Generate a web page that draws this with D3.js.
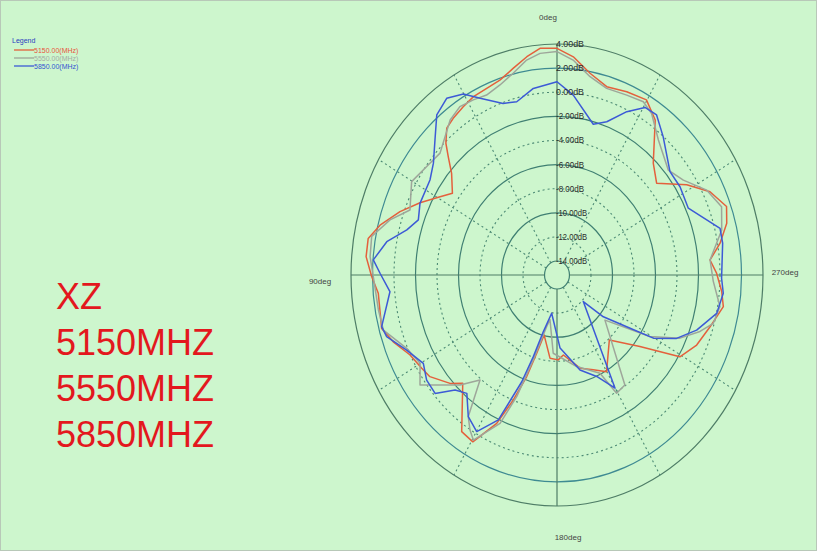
<!DOCTYPE html>
<html><head><meta charset="utf-8">
<script src="https://cdn.jsdelivr.net/npm/d3@7"></script>
<style>
html,body{margin:0;padding:0;background:#cdf6cd;}
svg{display:block;}
</style></head>
<body>
<svg id="c" width="817" height="551"></svg>
<script>
// ---- data ----
const seriesNames = ["5150.00(MHz)", "5550.00(MHz)", "5850.00(MHz)"];
const bigLabels = ["XZ", "5150MHZ", "5550MHZ", "5850MHZ"];
const dbTicks = [4, 2, 0, -2, -4, -6, -8, -10, -12, -14];
const angleLabels = ["0deg", "90deg", "180deg", "270deg"];
const spokeAngles = [30, 60, 120, 150, 210, 240, 300, 330];

const ang5150 = [0,4.8,8.8,13.3,18.2,22.9,27.7,32,36.6,40.1,43.4,45.9,49.3,55.1,59.2,64.8,70.2,75.9,80.2,85.1,90.4,95.2,105.2,110,115.9,121.6,125.5,132.1,135.7,145.7,150.5,155.5,158.6,161.5,163.8,166.4,174.6,180.9,185.1,195.5,203.2,209.9,222.1,232.4,239.3,245.9,253.2,260.4,264.9,270.5,275,279.8,285.2,289.8,295.9,301.8,309.4,316,324.6,330.2,336.9,343.5,349.6,355.2];
const db5150  = [3.64,3.71,3.16,2.47,1.85,1.64,1.55,1.30,1.03,0.76,-0.12,-1.08,-2.23,-3.30,-2.50,-1.08,0.36,1.81,2.66,2.66,2.08,1.53,1.74,1.05,0.03,-0.39,-0.64,-1.75,-2.61,0.57,0.74,-1.64,-4.03,-6.28,-8.40,-10.05,-8.23,-8.12,-8.50,-7.14,-6.60,-5.91,-7.90,-5.43,-1.87,-0.93,-0.29,0.53,0.22,-0.31,-0.87,0.22,1.20,1.60,0.66,-0.96,-3.17,-2.27,0.61,1.58,1.37,1.13,1.85,3.00];

const ang5550 = [0,4.9,9,13.7,18.6,23.7,28.2,32.9,37.7,47.1,52.7,60.2,68.5,73.6,79.5,85,90.4,99.9,105.8,113.5,119.9,125.6,130,135.3,140.6,144.9,147.8,150.4,156.7,159.6,162.6,167.4,170,176.9,193.6,206.1,209.5,214.7,230,239.4,245.4,250.6,254.6,260.2,268,275,283.7,290.3,296.8,303.8,310,319.9,326.7,330.8,336.5,343.4,349.4,355.2];
const db5550  = [3.37,3.29,2.89,2.06,1.47,1.14,1.32,1.47,1.09,-0.31,-0.10,0.42,-0.46,1.03,2.37,2.29,1.93,1.70,1.62,0.09,-0.47,0.51,-0.96,-2.33,-3.88,-0.81,0.03,0.59,-1.77,-4.40,-7.77,-10.78,-11.4,-8.66,-7.35,-6.08,-3.90,-4.07,-9.34,-5.13,-2.58,-1.06,-0.08,0.22,-0.62,-0.87,0.61,1.16,0.45,-1.02,-1.64,-0.52,0.87,1.30,1.11,0.99,1.57,2.73];

const ang5850 = [0,8.1,14.6,19.4,26,30.1,35,40.1,45.4,51.1,56.3,65,70.5,75,80.1,85.8,89.5,95.1,104.7,107.9,114,120.5,125.7,130.9,135.2,139.5,144.9,150.1,155.6,159.7,162,164.9,171.1,182.7,195.2,203.7,209.9,228,231.2,236.5,239.7,244.7,250.6,257.9,264.4,269,279.7,284.3,294.4,302.6,309.2,319.3,325.1,329.5,334.4,340,344.9,354.2];
const db5850  = [0.87,0.47,-0.31,-0.07,1.15,2.20,2.73,2.20,0.78,-0.39,-0.96,-1.10,-1.48,-0.70,0.91,1.97,1.30,0.44,1.70,1.49,0.15,-0.73,-0.23,-0.16,-1.71,-2.25,-0.81,-0.18,-1.96,-5.72,-8.04,-10.3,-11.95,-9.09,-7.00,-5.97,-4.33,-11.87,-9.63,-7.39,-4.78,-2.86,-1.39,0.03,0.38,0.15,0.47,0.49,-1.75,-1.58,-1.60,-0.02,1.03,0.97,-0.14,-1.63,-2.21,-0.16];

const seriesColors = ["#e4603c", "#9ea69a", "#3c5ad6"];
const legendTextColors = ["#e8543c", "#a4aca4", "#3452d2"];

// ---- layout ----
const svg = d3.select("#c");
const W = 817, H = 551;
const cx = 557, cy = 275, Rx = 206, Ry = 231;
const r = d3.scaleLinear().domain([-14, 4]).range([14 / Ry, 1]); // normalized radius
const pt = (deg, db) => {
  const t = deg * Math.PI / 180, n = r(db);
  return [cx - Rx * n * Math.sin(t), cy - Ry * n * Math.cos(t)];
};

svg.append("rect").attr("x", 0.5).attr("y", 0.5).attr("width", W - 1).attr("height", H - 1)
  .attr("fill", "#cdf6cd").attr("stroke", "#b8c8b8");

const g = svg.append("g");
// rings
const solid = new Set([4, 2, -2, -6, -10, -14]);
dbTicks.forEach(d => {
  const n = r(d);
  g.append("ellipse").attr("cx", cx).attr("cy", cy).attr("rx", Rx * n).attr("ry", Ry * n)
    .attr("fill", "none")
    .attr("stroke", d === 4 ? "#4e7d66" : (d === 2 ? "#3e8a92" : (solid.has(d) ? "#3f7f72" : "#4c8a74")))
    .attr("stroke-width", solid.has(d) ? 1.2 : 1.1)
    .attr("stroke-dasharray", solid.has(d) ? null : "2,3");
});
// spokes
spokeAngles.forEach(a => {
  const p0 = pt(a, -14), p1 = pt(a, 4);
  g.append("line").attr("x1", p0[0]).attr("y1", p0[1]).attr("x2", p1[0]).attr("y2", p1[1])
    .attr("stroke", "#4c8a74").attr("stroke-width", 1.1).attr("stroke-dasharray", "2,3");
});
// axes
[0, 90, 180, 270].forEach(a => {
  const p0 = pt(a, -14), p1 = pt(a, 4);
  g.append("line").attr("x1", p0[0]).attr("y1", p0[1]).attr("x2", p1[0]).attr("y2", p1[1])
    .attr("stroke", "#4e7d66").attr("stroke-width", 1.2);
});

// series
const line = d3.line().x(d => d[0]).y(d => d[1]).curve(d3.curveLinearClosed);
[[ang5150, db5150], [ang5550, db5550], [ang5850, db5850]].forEach(([a, v], i) => {
  const pts = a.map((ang, k) => pt(ang, v[k]));
  svg.append("path").attr("d", line(pts)).attr("fill", "none")
    .attr("stroke", seriesColors[i]).attr("stroke-width", 1.5).attr("stroke-linejoin", "round");
});

// dB labels
dbTicks.forEach(d => {
  const p = pt(0, d);
  svg.append("text").attr("x", p[0] - 1).attr("y", p[1] + 3)
    .attr("font-family", "Liberation Sans, Arial, sans-serif").attr("font-size", 8.5)
    .attr("fill", "#2a2a2a").attr("textLength", d <= -10 ? 31 : 28).attr("lengthAdjust", "spacingAndGlyphs")
    .text((d < 0 ? "-" : "") + Math.abs(d).toFixed(2) + "dB");
});

// angle labels
const angPos = [[548, 20, "middle"], [320, 284, "middle"], [568, 540, "middle"], [785, 275, "middle"]];
angleLabels.forEach((t, i) => {
  svg.append("text").attr("x", angPos[i][0]).attr("y", angPos[i][1]).attr("text-anchor", angPos[i][2])
    .attr("font-family", "Liberation Sans, Arial, sans-serif").attr("font-size", 8).attr("fill", "#444").text(t);
});

// legend
svg.append("text").attr("x", 12).attr("y", 43).attr("font-family", "Liberation Sans, Arial, sans-serif")
  .attr("font-size", 7).attr("fill", "#2a40c0").text("Legend");
seriesNames.forEach((s, i) => {
  const y = 50 + i * 8;
  svg.append("line").attr("x1", 14).attr("x2", 34).attr("y1", y).attr("y2", y)
    .attr("stroke", seriesColors[i]).attr("stroke-width", 1.3);
  svg.append("text").attr("x", 34).attr("y", y + 2.5).attr("font-family", "Liberation Sans, Arial, sans-serif")
    .attr("font-size", 7).attr("fill", legendTextColors[i]).text(s);
});

// big labels
bigLabels.forEach((t, i) => {
  svg.append("text").attr("x", 56).attr("y", 309 + i * 46)
    .attr("font-family", "Liberation Sans, Arial, sans-serif").attr("font-size", 36)
    .attr("fill", "#e3181e").text(t);
});
</script>
</body></html>
